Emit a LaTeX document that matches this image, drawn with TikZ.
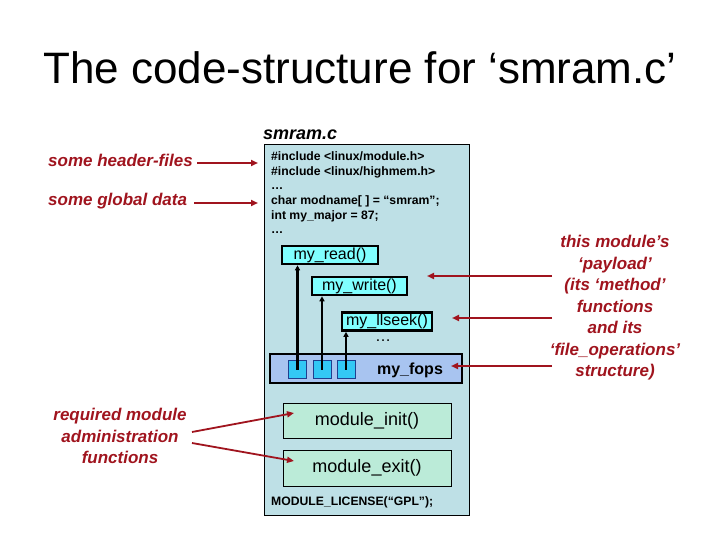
\documentclass[tikz,border=0pt]{standalone}
\usepackage{fontspec}
\setmainfont{Liberation Sans}
\usetikzlibrary{arrows.meta}
\definecolor{lbl}{HTML}{A0141E}
\definecolor{mainfill}{HTML}{BEE0E6}
\definecolor{fnfill}{HTML}{80FFFF}
\definecolor{fopsfill}{HTML}{A8C4F0}
\definecolor{sqfill}{HTML}{33C8F5}
\definecolor{sqdraw}{HTML}{1F3F8F}
\definecolor{modfill}{HTML}{BBEBD8}
\tikzset{
  fnbox/.style={draw=black, line width=2.6pt, fill=fnfill, inner sep=0pt, font=\fontsize{16}{16}\selectfont},
  modbox/.style={draw=black, line width=0.8pt, fill=modfill, inner sep=0pt, font=\fontsize{18}{18}\selectfont},
  sqbox/.style={draw=sqdraw, line width=0.8pt, fill=sqfill, inner sep=0pt, minimum width=18pt, minimum height=18pt},
  codeline/.style={anchor=base west, inner sep=0pt, font=\bfseries\fontsize{12.2}{12.2}\selectfont},
  redlabel/.style={text=lbl, inner sep=0pt, font=\bfseries\itshape\fontsize{17}{21.5}\selectfont, align=center},
  redarrow/.style={draw=lbl, line width=1.8pt, -{Triangle[length=7pt,width=6pt]}},
  blkarrow/.style={draw=black, line width=2.4pt, -{Triangle[length=5pt,width=5pt]}}
}
\begin{document}
\begin{tikzpicture}[x=1pt,y=-1pt]
\useasboundingbox[fill=white] (0,0) rectangle (720,540);
% title
\node[anchor=base, inner sep=0pt, font=\fontsize{44}{44}\selectfont] (title) at (360,84) {The code-structure for ‘smram.c’};
% file name
\node[anchor=base west, inner sep=0pt, font=\bfseries\itshape\fontsize{18}{18}\selectfont] (fname) at (263,140) {smram.c};
% main box
\node[draw=black, line width=0.8pt, fill=mainfill, anchor=north west, inner sep=0pt, minimum width=205pt, minimum height=371pt] (main) at (264,144) {};
% code lines
\node[codeline] (c1) at (271,161) {\#include <linux/module.h>};
\node[codeline] (c2) at (271,175.5) {\#include <linux/highmem.h>};
\node[codeline] (c3) at (271,190) {…};
\node[codeline] (c4) at (271,204.5) {char modname[ ] = “smram”;};
\node[codeline] (c5) at (271,219) {int my\_major = 87;};
\node[codeline] (c6) at (271,233.5) {…};
% function boxes
\node[fnbox, minimum width=96pt, minimum height=18pt] (rd) at (330,255) {my\_read()};
\node[fnbox, minimum width=95pt, minimum height=18pt] (wr) at (359.5,286) {my\_write()};
\node[fnbox, minimum width=90pt, minimum height=18pt] (ls) at (387,321.5) {my\_llseek()};
\node[inner sep=0pt, font=\fontsize{16}{16}\selectfont] (dots) at (383,341) {…};
% fops
\node[draw=black, line width=2.8pt, fill=fopsfill, inner sep=0pt, minimum width=192pt, minimum height=29pt] (fops) at (366,368.5) {};
\node[inner sep=0pt, font=\bfseries\fontsize{16}{16}\selectfont] (fopst) at (410,370) {my\_fops};
\node[sqbox] (sq1) at (297.5,369.5) {};
\node[sqbox] (sq2) at (322,369.5) {};
\node[sqbox] (sq3) at (346,369.5) {};
\draw[blkarrow] (sq1.center) -- (sq1.center |- rd.south);
\draw[blkarrow] (sq2.center) -- (sq2.center |- wr.south);
\draw[blkarrow] (sq3.center) -- (sq3.center |- ls.south);
% module boxes
\node[modbox, minimum width=168pt, minimum height=35pt] (init) at (367,420.5) {module\_init()};
\node[modbox, minimum width=168pt, minimum height=36pt] (exit) at (367,468) {module\_exit()};
\node[codeline] (lic) at (271,505) {MODULE\_LICENSE(“GPL”);};
% left labels
\node[redlabel, anchor=base west] (lh) at (48,167) {some header-files};
\node[redlabel, anchor=base west] (lg) at (48,206) {some global data};
\node[redlabel, anchor=north] (lreq) at (120,408) {required module\\administration\\functions};
\coordinate (lhs) at (197,163);
\coordinate (lht) at (258,163);
\coordinate (lgs) at (194,203);
\coordinate (lgt) at (258,203);
\draw[redarrow] (lhs) -- (lht);
\draw[redarrow] (lgs) -- (lgt);
\coordinate (rqa) at (192,432);
\coordinate (rqb) at (192,443);
\coordinate (rqta) at (294,413);
\coordinate (rqtb) at (294,461);
\draw[redarrow] (rqa) -- (rqta);
\draw[redarrow] (rqb) -- (rqtb);
% right label
\node[redlabel, anchor=north] (lpay) at (615,235) {this module’s\\‘payload’\\(its ‘method’\\functions\\and its\\‘file\_operations’\\structure)};
\coordinate (pa) at (552,276);
\coordinate (pat) at (427,276);
\coordinate (pb) at (552,318);
\coordinate (pbt) at (452,318);
\coordinate (pc) at (552,366);
\coordinate (pct) at (451,366);
\draw[redarrow] (pa) -- (pat);
\draw[redarrow] (pb) -- (pbt);
\draw[redarrow] (pc) -- (pct);
\end{tikzpicture}
\end{document}
